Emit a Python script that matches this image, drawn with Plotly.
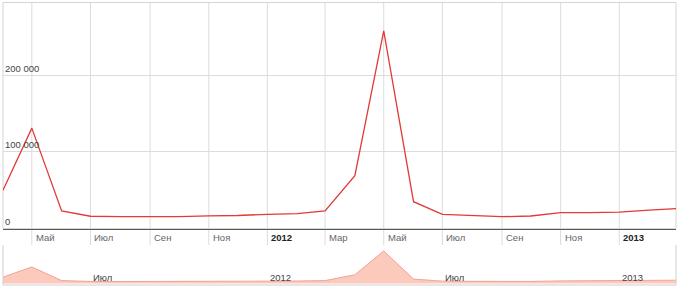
import plotly.graph_objects as go

# ---- data ----
dates = ["2011-04-01", "2011-05-01", "2011-06-01", "2011-07-01", "2011-08-01", "2011-09-01",
         "2011-10-01", "2011-11-01", "2011-12-01", "2012-01-01", "2012-02-01", "2012-03-01",
         "2012-04-01", "2012-05-01", "2012-06-01", "2012-07-01", "2012-08-01", "2012-09-01",
         "2012-10-01", "2012-11-01", "2012-12-01", "2013-01-01", "2013-02-01", "2013-03-01"]
values = [50000, 131000, 23000, 16000, 15500, 15000,
          15500, 16500, 17000, 18500, 19500, 23000,
          69000, 258000, 35000, 18500, 17000, 15400,
          16300, 20600, 20600, 21500, 24000, 26000]

x_tick_dates = ["2011-05-01", "2011-07-01", "2011-09-01", "2011-11-01", "2012-01-01", "2012-03-01",
                "2012-05-01", "2012-07-01", "2012-09-01", "2012-11-01", "2013-01-01"]
x_tick_labels = ["Май", "Июл", "Сен", "Ноя", "2012", "Мар", "Май", "Июл", "Сен", "Ноя", "2013"]

ov_tick_dates = ["2011-07-01", "2012-01-01", "2012-07-01", "2013-01-01"]
ov_tick_labels = ["Июл", "2012", "Июл", "2013"]

y_tick_vals = [0, 100000, 200000]
y_tick_labels = ["0", "100 000", "200 000"]

# ---- layout helpers ----
H = 288
def py(px):
    return (H - px) / H

main_dom = [py(228.5), py(2.5)]
ov_dom = [py(285), py(245)]
x_range = ["2011-04-01", "2013-03-01"]
FONT = "Liberation Sans, Arial, sans-serif"

fig = go.Figure()
fig.add_trace(go.Scatter(x=dates, y=values, mode="lines",
                         line=dict(color="#e23a36", width=1.3),
                         xaxis="x", yaxis="y", hoverinfo="skip"))
fig.add_trace(go.Scatter(x=dates, y=values, mode="lines", fill="tozeroy",
                         fillcolor="#fcc9bd", line=dict(color="#f2a393", width=1),
                         xaxis="x2", yaxis="y2", hoverinfo="skip"))

shapes = []
# vertical gridlines extending through label row
for d in x_tick_dates:
    shapes.append(dict(type="line", xref="x", yref="paper", x0=d, x1=d,
                       y0=py(245), y1=py(2.5), line=dict(color="#dcdcdc", width=1),
                       layer="below"))
# main frame
shapes.append(dict(type="rect", xref="paper", yref="paper", x0=0, x1=1,
                   y0=main_dom[0], y1=main_dom[1], line=dict(color="#d4d4d4", width=1),
                   layer="below"))
# overview frame (left, right, bottom)
for (x0, y0, x1, y1) in [(0, ov_dom[0], 0, ov_dom[1]), (1, ov_dom[0], 1, ov_dom[1]),
                         (0, ov_dom[0], 1, ov_dom[0])]:
    shapes.append(dict(type="line", xref="paper", yref="paper", x0=x0, x1=x1,
                       y0=y0, y1=y1, line=dict(color="#cfcfcf", width=1)))

annotations = []
for v, t in zip(y_tick_vals, y_tick_labels):
    annotations.append(dict(xref="paper", yref="y", x=0, y=v, text=t, showarrow=False,
                            xanchor="left", yanchor="middle", xshift=0, yshift=7,
                            font=dict(family=FONT, size=9.5, color="#444444")))
for d, t in zip(x_tick_dates, x_tick_labels):
    bold = t.isdigit()
    annotations.append(dict(xref="x", yref="paper", x=d, y=py(237.7),
                            text=("<b>%s</b>" % t) if bold else t, showarrow=False,
                            xanchor="left", yanchor="middle", xshift=2,
                            font=dict(family=FONT, size=9.5,
                                      color="#222222" if bold else "#666666")))
for d, t in zip(ov_tick_dates, ov_tick_labels):
    annotations.append(dict(xref="x2", yref="paper", x=d, y=py(277.7), text=t,
                            showarrow=False, xanchor="left", yanchor="middle", xshift=1,
                            font=dict(family=FONT, size=9.5, color="#444444")))

fig.update_layout(
    width=680, height=288,
    margin=dict(l=3, r=4, t=0, b=0),
    paper_bgcolor="white", plot_bgcolor="white",
    showlegend=False,
    xaxis=dict(domain=[0, 1], range=x_range, type="date", showgrid=False,
               showticklabels=False, ticks="", zeroline=False,
               showline=True, linecolor="#5a5a5a", linewidth=1, anchor="y"),
    yaxis=dict(domain=main_dom, range=[0, 295000], tickvals=[100000, 200000],
               showgrid=True, gridcolor="#dcdcdc", gridwidth=1, showticklabels=False,
               ticks="", zeroline=False, showline=False, anchor="x"),
    xaxis2=dict(domain=[0, 1], range=x_range, type="date", showgrid=False,
                showticklabels=False, ticks="", zeroline=False, showline=False, anchor="y2"),
    yaxis2=dict(domain=ov_dom, range=[-12000, 305000], showgrid=False,
                showticklabels=False, ticks="", zeroline=False, showline=False, anchor="x2"),
    shapes=shapes, annotations=annotations,
)

fig.write_html("out.html")
